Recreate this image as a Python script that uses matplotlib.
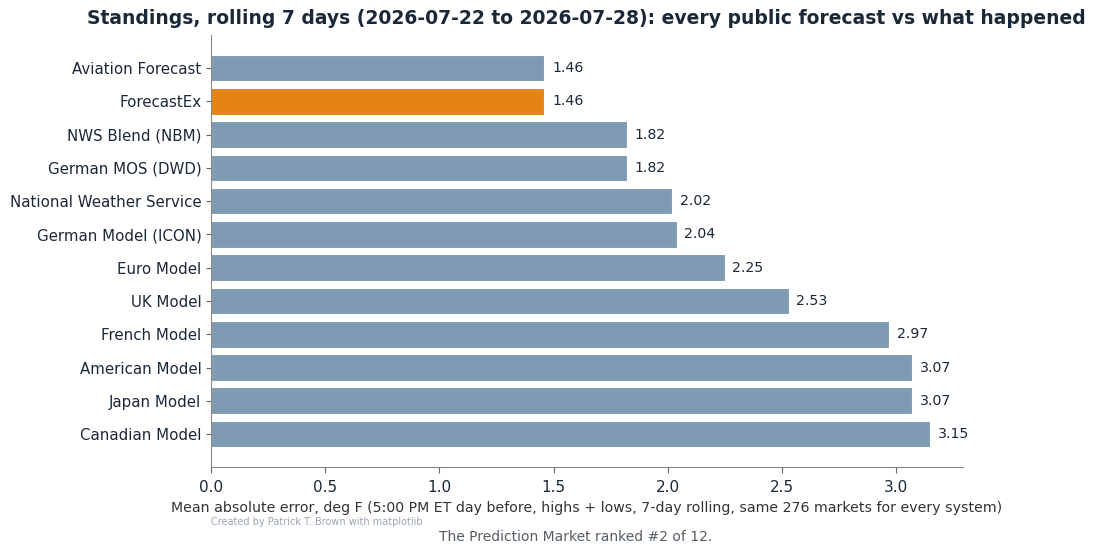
import matplotlib
matplotlib.use("Agg")
import matplotlib.pyplot as plt

systems = [
    "Aviation Forecast", "ForecastEx", "NWS Blend (NBM)", "German MOS (DWD)",
    "National Weather Service", "German Model (ICON)", "Euro Model", "UK Model",
    "French Model", "American Model", "Japan Model", "Canadian Model",
]
mae = [1.46, 1.46, 1.82, 1.82, 2.02, 2.04, 2.25, 2.53, 2.97, 3.07, 3.07, 3.15]
highlight = "ForecastEx"

BASE = "#7f9bb3"
HIGH = "#e38413"
DARK = "#1b2838"

fig = plt.figure(figsize=(11, 5.56), dpi=100)
ax = fig.add_axes([0.192, 0.16, 0.683, 0.777])

colors = [HIGH if s == highlight else BASE for s in systems]
ypos = list(range(len(systems)))
bars = ax.barh(ypos, mae, color=colors, edgecolor="white", linewidth=0.8, height=0.8)
ax.set_yticks(ypos)
ax.set_yticklabels(systems, fontsize=10.8, color=DARK)
ax.invert_yaxis()

for b, v in zip(bars, mae):
    ax.text(b.get_width() + 0.033, b.get_y() + b.get_height() / 2, f"{v:.2f}",
            va="center", ha="left", fontsize=10.2, color=DARK)

ax.set_xlim(0, max(mae) * 1.045)
ax.tick_params(axis="x", labelsize=11, colors="#666666", labelcolor=DARK,
               length=4.5, pad=5)
ax.tick_params(axis="y", colors="#666666", labelcolor=DARK)
for side in ["top", "right"]:
    ax.spines[side].set_visible(False)
for side in ["left", "bottom"]:
    ax.spines[side].set_color("#888888")

ax.set_xlabel("Mean absolute error, deg F (5:00 PM ET day before, highs + lows, "
              "7-day rolling, same 276 markets for every system)",
              fontsize=10.2, color="#333333", labelpad=4)
ax.set_title("Standings, rolling 7 days (2026-07-22 to 2026-07-28): every public "
             "forecast vs what happened", fontsize=13.5, fontweight="bold",
             color=DARK, pad=8)

fig.text(0.192, 0.061, "Created by Patrick T. Brown with matplotlib",
         fontsize=7, color="#9aa5b1", ha="left", va="center")
fig.text(0.523, 0.034, "The Prediction Market ranked #2 of 12.",
         fontsize=10, color="#555e66", ha="center", va="center")

fig.savefig("out.png", dpi=100)
plt.close(fig)
